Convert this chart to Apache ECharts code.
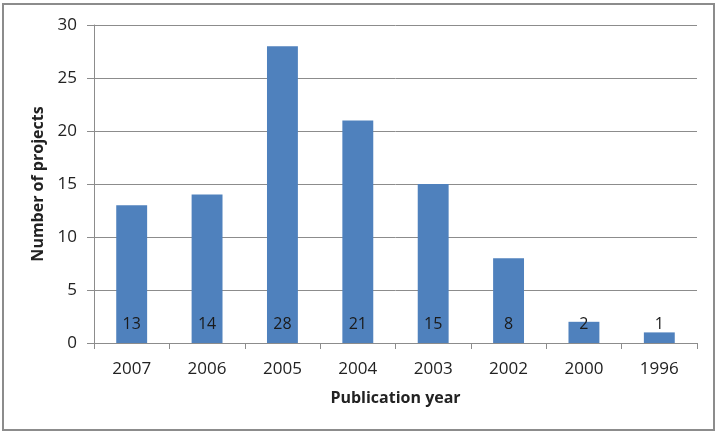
<!DOCTYPE html>
<html>
<head>
<meta charset="utf-8">
<script src="https://cdn.jsdelivr.net/npm/echarts@6/dist/echarts.min.js"></script>
<style>
  html, body { margin: 0; padding: 0; background: #fff; }
  #frame { position: absolute; left: 2px; top: 3px; width: 713px; height: 428px; border: 2px solid #8c8c8c; box-sizing: border-box; }
  #main { position: absolute; left: 0; top: 0; width: 723px; height: 434px; }
</style>
</head>
<body>
<div id="frame"></div>
<div id="main"></div>
<script>
var years = ['2007', '2006', '2005', '2004', '2003', '2002', '2000', '1996'];
var projects = [13, 14, 28, 21, 15, 8, 2, 1];
var yTicks = { min: 0, max: 30, interval: 5 };

var myChart = echarts.init(document.getElementById('main'));
var font = '"Open Sans", sans-serif';

var option = {
  animation: false,
  grid: { left: 94, right: 26, top: 25, bottom: 91 },
  xAxis: {
    type: 'category',
    data: years,
    name: 'Publication year',
    nameLocation: 'middle',
    nameGap: 47,
    nameTextStyle: { fontFamily: font, fontSize: 16, fontWeight: 'bold', color: '#222' },
    axisLine: { lineStyle: { color: '#8c8c8c' } },
    axisTick: { show: true, length: 6, lineStyle: { color: '#8c8c8c' } },
    axisLabel: { fontFamily: font, fontSize: 17, color: '#222', margin: 18 }
  },
  yAxis: {
    type: 'value',
    min: yTicks.min,
    max: yTicks.max,
    interval: yTicks.interval,
    name: 'Number of projects',
    nameLocation: 'middle',
    nameGap: 43,
    nameTextStyle: { fontFamily: font, fontSize: 16, fontWeight: 'bold', color: '#222' },
    axisLine: { show: true, lineStyle: { color: '#8c8c8c' } },
    axisTick: { show: true, length: 7, lineStyle: { color: '#8c8c8c' } },
    axisLabel: { fontFamily: font, fontSize: 17, color: '#222', margin: 17 },
    splitLine: { lineStyle: { color: '#8c8c8c' } }
  },
  series: [{
    type: 'bar',
    data: projects,
    barWidth: '41%',
    itemStyle: { color: '#4f81bd' },
    label: {
      show: true,
      position: 'insideBottom',
      distance: 11,
      fontFamily: font,
      fontSize: 16,
      color: '#1a1a1a'
    }
  }]
};

myChart.setOption(option);
</script>
</body>
</html>
